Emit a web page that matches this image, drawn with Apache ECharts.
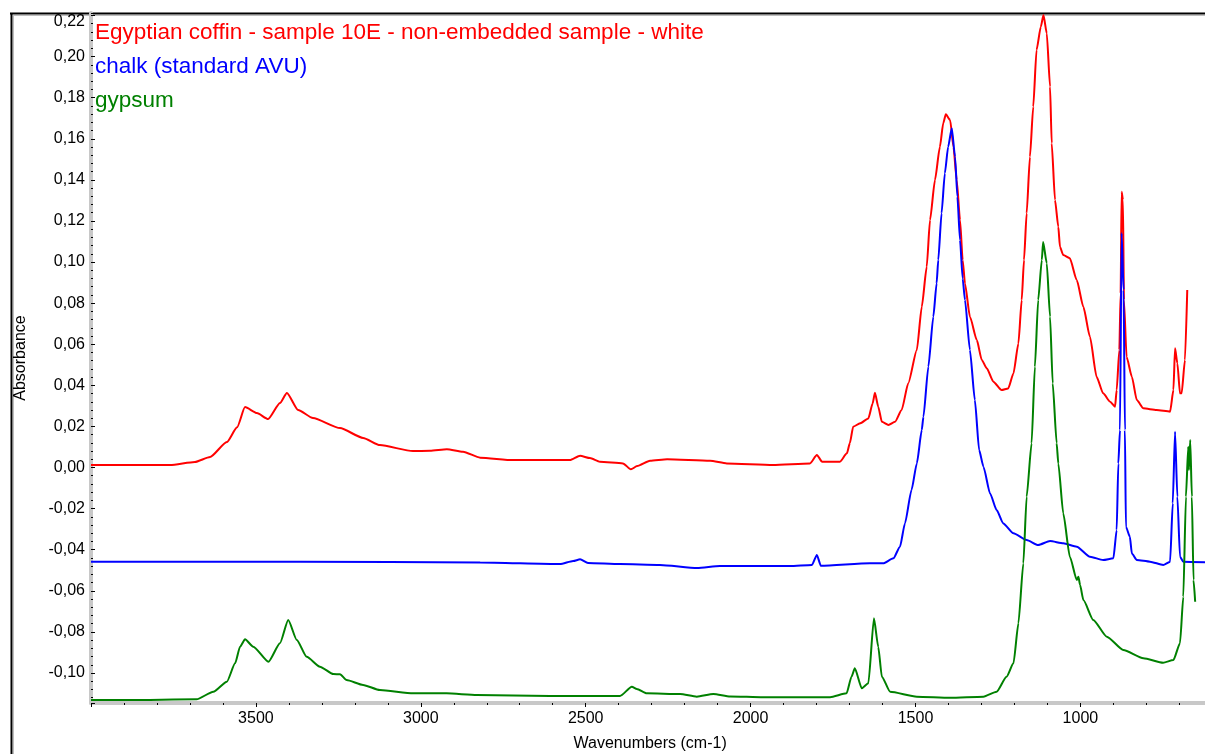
<!DOCTYPE html>
<html>
<head>
<meta charset="utf-8">
<title>FTIR spectra</title>
<script src="https://cdn.jsdelivr.net/npm/echarts@6/dist/echarts.min.js"></script>
<style>
	html, body { margin: 0; padding: 0; background: #fff; }
	#chart { width: 1205px; height: 754px; }
</style>
</head>
<body>
<div id="chart"></div>
<script>
// Egyptian coffin - sample 10E (red)
var coffinWn = [4000, 3882, 3760, 3685, 3639, 3588, 3557, 3533, 3497, 3463,
	3427, 3406, 3372, 3327, 3245, 3175, 3124, 3024, 2972, 2921,
	2872, 2820, 2720, 2608, 2548, 2517, 2487, 2457, 2387, 2363,
	2344, 2305, 2253, 2123, 2072, 1932, 1820, 1799, 1783, 1729,
	1708, 1699, 1689, 1668, 1643, 1630, 1623, 1613, 1602, 1582,
	1562, 1542, 1522, 1496, 1481, 1466, 1456, 1441, 1426, 1416,
	1408, 1395, 1385, 1375, 1365, 1357, 1350, 1335, 1314, 1299,
	1284, 1264, 1239, 1219, 1203, 1188, 1178, 1171, 1163, 1153,
	1143, 1133, 1120, 1112, 1102, 1092, 1087, 1077, 1067, 1062,
	1052, 1032, 1011, 991, 971, 951, 931, 910, 895, 890,
	882, 878, 875, 871, 868, 860, 844, 829, 809, 769,
	728, 718, 713, 706, 698, 693, 683, 676];
var coffinAbs = [0.0012, 0.0012, 0.0012, 0.0027, 0.0051, 0.0124, 0.0196, 0.0294, 0.0265, 0.0236,
	0.0314, 0.0363, 0.0280, 0.0241, 0.0192, 0.0144, 0.0109, 0.0080, 0.0082, 0.0089,
	0.0077, 0.0048, 0.0036, 0.0036, 0.0036, 0.0057, 0.0046, 0.0028, 0.0020, -0.0009,
	0.0007, 0.0033, 0.0040, 0.0033, 0.0020, 0.0012, 0.0020, 0.0061, 0.0028, 0.0028,
	0.0069, 0.0119, 0.0199, 0.0215, 0.0239, 0.0312, 0.0364, 0.0296, 0.0223, 0.0207,
	0.0223, 0.0280, 0.0410, 0.0572, 0.0782, 0.0977, 0.1204, 0.1399, 0.1561, 0.1675,
	0.1719, 0.1691, 0.1561, 0.1399, 0.1204, 0.1010, 0.0896, 0.0734, 0.0620, 0.0523,
	0.0483, 0.0418, 0.0377, 0.0385, 0.0458, 0.0604, 0.0815, 0.1010, 0.1237, 0.1512,
	0.1756, 0.2032, 0.2145, 0.2202, 0.2113, 0.1853, 0.1578, 0.1302, 0.1172, 0.1074,
	0.1034, 0.1018, 0.0912, 0.0782, 0.0636, 0.0442, 0.0361, 0.0320, 0.0296, 0.0377,
	0.0572, 0.0848, 0.1342, 0.1302, 0.0815, 0.0539, 0.0442, 0.0328, 0.0288, 0.0280,
	0.0272, 0.0377, 0.0580, 0.0507, 0.0361, 0.0361, 0.0523, 0.0864];

// chalk (standard AVU) (blue)
var chalkWn = [4000, 3366, 2820, 2578, 2538, 2517, 2493, 2396, 2275, 2162,
	2093, 1881, 1814, 1799, 1787, 1638, 1598, 1567, 1547, 1532,
	1512, 1496, 1481, 1476, 1461, 1446, 1436, 1431, 1421, 1411,
	1401, 1390, 1380, 1373, 1365, 1357, 1350, 1335, 1320, 1307,
	1294, 1274, 1254, 1234, 1203, 1163, 1128, 1092, 1052, 1011,
	971, 931, 900, 890, 885, 880, 875, 869, 865, 862,
	850, 844, 829, 789, 749, 728, 720, 713, 706, 698,
	688, 622];
var chalkAbs = [-0.0458, -0.0458, -0.0462, -0.0470, -0.0455, -0.0447, -0.0465, -0.0470, -0.0474, -0.0489,
	-0.0479, -0.0479, -0.0474, -0.0426, -0.0478, -0.0466, -0.0466, -0.0442, -0.0385, -0.0272,
	-0.0109, 0.0020, 0.0182, 0.0247, 0.0491, 0.0734, 0.0896, 0.1010, 0.1237, 0.1432,
	0.1561, 0.1651, 0.1512, 0.1318, 0.1107, 0.0920, 0.0815, 0.0572, 0.0328, 0.0085,
	0.0004, -0.0126, -0.0207, -0.0272, -0.0320, -0.0353, -0.0377, -0.0358, -0.0369, -0.0385,
	-0.0434, -0.0450, -0.0442, -0.0304, 0.0020, 0.0182, 0.1141, 0.0864, 0.0182, -0.0288,
	-0.0337, -0.0418, -0.0450, -0.0458, -0.0474, -0.0458, -0.0174, 0.0174, -0.0142, -0.0434,
	-0.0458, -0.0461];

// gypsum (green)
var gypsumWn = [4000, 3821, 3680, 3629, 3588, 3563, 3548, 3533, 3508, 3462,
	3427, 3402, 3376, 3346, 3306, 3265, 3245, 3225, 3175, 3124,
	3023, 2922, 2830, 2608, 2396, 2360, 2345, 2315, 2214, 2163,
	2113, 2062, 1962, 1759, 1709, 1694, 1684, 1663, 1643, 1626,
	1613, 1602, 1577, 1496, 1395, 1294, 1254, 1224, 1203, 1188,
	1173, 1163, 1148, 1138, 1128, 1117, 1113, 1102, 1092, 1084,
	1072, 1067, 1052, 1032, 1011, 1006, 1001, 991, 961, 920,
	870, 809, 749, 718, 698, 688, 680, 673, 671, 667,
	662, 657, 652];
var gypsumAbs = [-0.1131, -0.1131, -0.1128, -0.1091, -0.1042, -0.0953, -0.0872, -0.0836, -0.0872, -0.0945,
	-0.0855, -0.0742, -0.0839, -0.0921, -0.0969, -0.1005, -0.1006, -0.1034, -0.1058, -0.1083,
	-0.1099, -0.1099, -0.1107, -0.1112, -0.1112, -0.1067, -0.1078, -0.1099, -0.1102, -0.1115,
	-0.1102, -0.1114, -0.1118, -0.1118, -0.1099, -0.1018, -0.0977, -0.1074, -0.1050, -0.0734,
	-0.0872, -0.1018, -0.1091, -0.1115, -0.1120, -0.1115, -0.1091, -0.1018, -0.0953, -0.0758,
	-0.0466, -0.0142, 0.0118, 0.0491, 0.0815, 0.1010, 0.1097, 0.0994, 0.0734, 0.0410,
	0.0118, 0.0020, -0.0223, -0.0434, -0.0547, -0.0531, -0.0572, -0.0645, -0.0742, -0.0823,
	-0.0888, -0.0928, -0.0950, -0.0937, -0.0855, -0.0629, -0.0142, 0.0101, -0.0012, 0.0134,
	-0.0142, -0.0547, -0.0653];

var seriesNames = ['Egyptian coffin - sample 10E - non-embedded sample - white', 'chalk (standard AVU)', 'gypsum'];
var seriesColors = ['#ff0000', '#0000ff', '#008000'];

function zip(xs, ys) {
	return xs.map(function (x, i) { return [x, ys[i]]; });
}

var FONT = '"Liberation Sans", Arial, sans-serif';

var option = {
	animation: false,
	backgroundColor: '#ffffff',
	textStyle: { fontFamily: FONT },
	grid: {
		left: 91,
		top: 13,
		width: 1154.3, // 500..4000, right part falls outside the window like the original
		bottom: 51,
		outerBoundsMode: 'none',
		containLabel: false
	},
	legend: {
		orient: 'vertical',
		left: 90,
		top: 21,
		padding: 0,
		itemWidth: 0,
		itemHeight: 0,
		itemGap: 11,
		icon: 'none',
		selectedMode: false,
		textStyle: { fontSize: 22.5, fontFamily: FONT },
		data: seriesNames.map(function (n, i) {
			return { name: n, textStyle: { color: seriesColors[i] } };
		})
	},
	xAxis: {
		type: 'value',
		inverse: true,
		min: 500,
		max: 4000,
		interval: 500,
		name: 'Wavenumbers (cm-1)',
		nameLocation: 'middle',
		nameGap: 33,
		nameTextStyle: { fontSize: 16, color: '#000', fontFamily: FONT, padding: [0, 36, 0, 0] },
		axisLine: { onZero: false, lineStyle: { color: '#c8c8c8', width: 4 } },
		axisTick: { length: 4, lineStyle: { color: '#000', width: 1 } },
		minorTick: { show: true, splitNumber: 5, length: 2, lineStyle: { color: '#000', width: 1 } },
		axisLabel: {
			fontSize: 16, color: '#000', fontFamily: FONT, margin: 8,
			showMaxLabel: false, showMinLabel: false,
			formatter: function (v) { return String(Math.round(v)); }
		},
		splitLine: { show: false }
	},
	yAxis: {
		type: 'value',
		min: -0.1146,
		max: 0.2212,
		minInterval: 0.02,
		maxInterval: 0.02,
		name: 'Absorbance',
		nameLocation: 'middle',
		nameGap: 62,
		nameTextStyle: { fontSize: 16, color: '#000', fontFamily: FONT },
		axisLine: { show: true, onZero: false, lineStyle: { color: '#c8c8c8', width: 4 } },
		axisTick: { show: true, inside: true, length: 4, lineStyle: { color: '#000', width: 1 } },
		minorTick: { show: true, splitNumber: 5, length: 2, lineStyle: { color: '#000', width: 1 } },
		axisLabel: {
			fontSize: 16, color: '#000', fontFamily: FONT, margin: 6,
			showMaxLabel: false, showMinLabel: false,
			formatter: function (v) {
				var s = v.toFixed(2).replace('.', ',');
				if (s === '-0,00') s = '0,00';
				return v > 0.215 ? '{top|' + s + '}' : s;
			},
			rich: { top: { fontSize: 16, color: '#000', fontFamily: FONT, padding: [13, 0, 0, 0] } }
		},
		splitLine: { show: false }
	},
	graphic: [
		{ type: 'line', silent: true, shape: { x1: 13, y1: 15.5, x2: 1205, y2: 15.5 }, style: { stroke: '#bdbdbd', lineWidth: 1 } },
		{ type: 'line', silent: true, shape: { x1: 13.5, y1: 15, x2: 13.5, y2: 754 }, style: { stroke: '#bdbdbd', lineWidth: 1 } },
		{ type: 'line', silent: true, shape: { x1: 10, y1: 13.5, x2: 1205, y2: 13.5 }, style: { stroke: '#000', lineWidth: 2 } },
		{ type: 'line', silent: true, shape: { x1: 11.5, y1: 13, x2: 11.5, y2: 754 }, style: { stroke: '#000', lineWidth: 2 } }
	],
	series: [
		{ name: seriesNames[0], data: zip(coffinWn, coffinAbs), color: seriesColors[0] },
		{ name: seriesNames[1], data: zip(chalkWn, chalkAbs), color: seriesColors[1] },
		{ name: seriesNames[2], data: zip(gypsumWn, gypsumAbs), color: seriesColors[2] }
	].map(function (s) {
		return {
			name: s.name,
			type: 'line',
			data: s.data,
			showSymbol: false,
			symbol: 'none',
			smooth: 0.2,
			smoothMonotone: 'x',
			lineStyle: { color: s.color, width: 2 },
			itemStyle: { color: s.color },
			z: 3
		};
	})
};

var myChart = echarts.init(document.getElementById('chart'), null, { renderer: 'canvas' });
myChart.setOption(option);
</script>
</body>
</html>
